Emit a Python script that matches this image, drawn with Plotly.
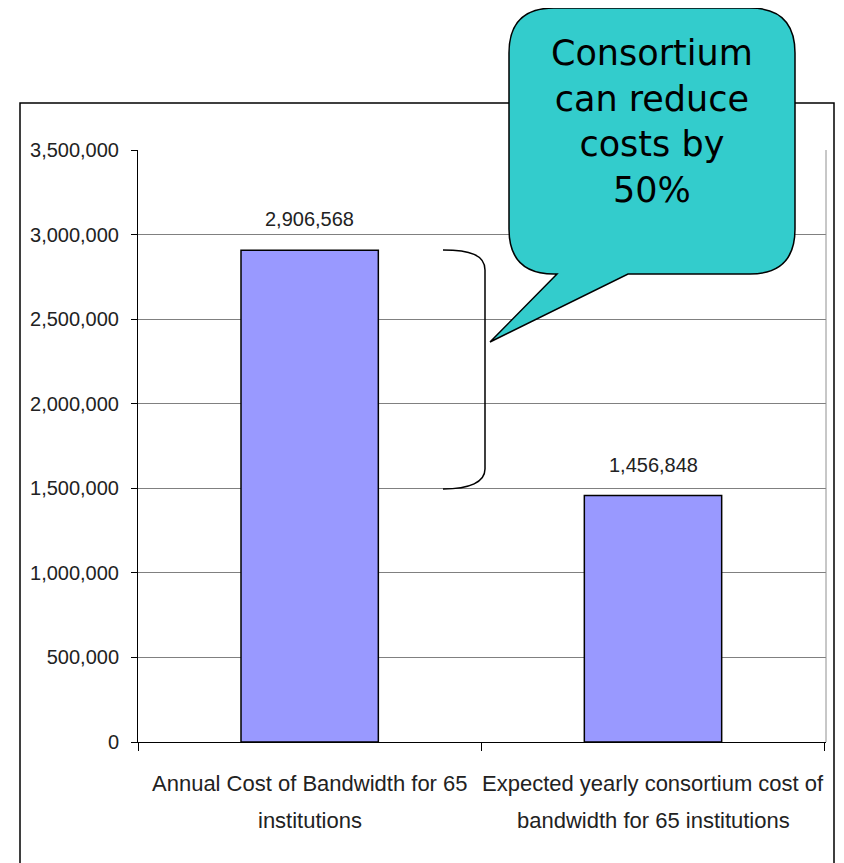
import plotly.graph_objects as go

# ---- data ----
category_lines = [
    ["Annual Cost of Bandwidth for 65", "institutions"],
    ["Expected yearly consortium cost of", "bandwidth for 65 institutions"],
]
categories = [" ".join(lines) for lines in category_lines]
values = [2906568, 1456848]
y_tick_vals = [0, 500000, 1000000, 1500000, 2000000, 2500000, 3000000, 3500000]
callout_text = "Consortium<br>can reduce<br>costs by<br>50%"

# page body has an 8px margin; layout is specified in page pixels
OFF = 8
W, H = 844, 863
PL, PR, PT, PB = 138, 826, 150, 742  # plot area in page pixels
L, T = PL - OFF, PT - OFF
R, B = W - (PR - OFF), H - (PB - OFF)
PW, PH = PR - PL, PB - PT


def px(x):
    return (x - PL) / PW


def py(y):
    return (PB - y) / PH


def path(cmds):
    out = []
    for c in cmds:
        if isinstance(c, str):
            out.append(c)
        else:
            out.append(f"{px(c[0]):.5f},{py(c[1]):.5f}")
    return " ".join(out)


tick_font = dict(family="Liberation Sans, Arial, sans-serif", size=20, color="#222222")
cat_font = dict(family="Liberation Sans, Arial, sans-serif", size=22, color="#222222")

fig = go.Figure()
fig.add_trace(go.Bar(
    x=categories, y=values, width=0.4,
    marker=dict(color="#9999FF", line=dict(color="#000000", width=1.5)),
    hoverinfo="skip",
))

# value labels
for c, v in zip(categories, values):
    fig.add_annotation(x=c, y=v, text=f"{v:,}", showarrow=False, yanchor="bottom",
                       yshift=18, font=tick_font)

# category labels (two lines each, wider line spacing)
for c, lines in zip(categories, category_lines):
    for i, line in enumerate(lines):
        fig.add_annotation(x=c, xref="x", yref="paper", y=py(783 + 37 * i), text=line,
                           showarrow=False, yanchor="middle", font=cat_font)

# outer frame
fig.add_shape(type="rect", xref="paper", yref="paper",
              x0=px(20), x1=px(834), y0=py(880), y1=py(103),
              line=dict(color="#000000", width=1.5), layer="below")
# right border of plot area
fig.add_shape(type="line", xref="paper", yref="paper", x0=1, x1=1, y0=0, y1=1,
              line=dict(color="#909090", width=1))

# bracket
bracket = path(["M", (443, 250), "C", (470, 250), (485, 255), (485, 270),
                "L", (485, 469), "C", (485, 482), (470, 489), (443, 489)])
fig.add_shape(type="path", xref="paper", yref="paper", path=bracket,
              line=dict(color="#000000", width=1.5))

# callout bubble
l, r, t, b, rr = 509, 795, 8, 274, 45
bubble = path(["M", (l + rr, t), "L", (r - rr, t), "Q", (r, t), (r, t + rr),
               "L", (r, b - rr), "Q", (r, b), (r - rr, b),
               "L", (628, b), "L", (490, 342), "L", (557, b),
               "L", (l + rr, b), "Q", (l, b), (l, b - rr),
               "L", (l, t + rr), "Q", (l, t), (l + rr, t), "Z"])
fig.add_shape(type="path", xref="paper", yref="paper", path=bubble,
              fillcolor="#33CCCC", line=dict(color="#000000", width=1.5), layer="above")
fig.add_annotation(xref="paper", yref="paper", x=px(652), y=py(122), text=callout_text,
                   showarrow=False, xanchor="center", yanchor="middle",
                   font=dict(family="DejaVu Sans", size=35, color="#000000"))

fig.update_layout(
    width=W, height=H,
    margin=dict(l=L, r=R, t=T, b=B, pad=0, autoexpand=False),
    paper_bgcolor="#FFFFFF", plot_bgcolor="#FFFFFF",
    showlegend=False,
    font=tick_font,
)
fig.update_xaxes(
    type="category", tickson="boundaries", ticks="outside", ticklen=8,
    tickcolor="#000000", showline=True, linecolor="#000000", linewidth=1,
    showgrid=False, showticklabels=False, automargin=False,
)
fig.update_yaxes(
    range=[0, 3500000], tickvals=y_tick_vals, tickformat=",", ticks="outside",
    ticklen=6, tickcolor="#000000", showline=True, linecolor="#000000", linewidth=1,
    showgrid=True, gridcolor="#808080", gridwidth=1, zeroline=False,
    tickfont=tick_font, ticklabelstandoff=8, automargin=False,
)

fig.write_html("out.html")
